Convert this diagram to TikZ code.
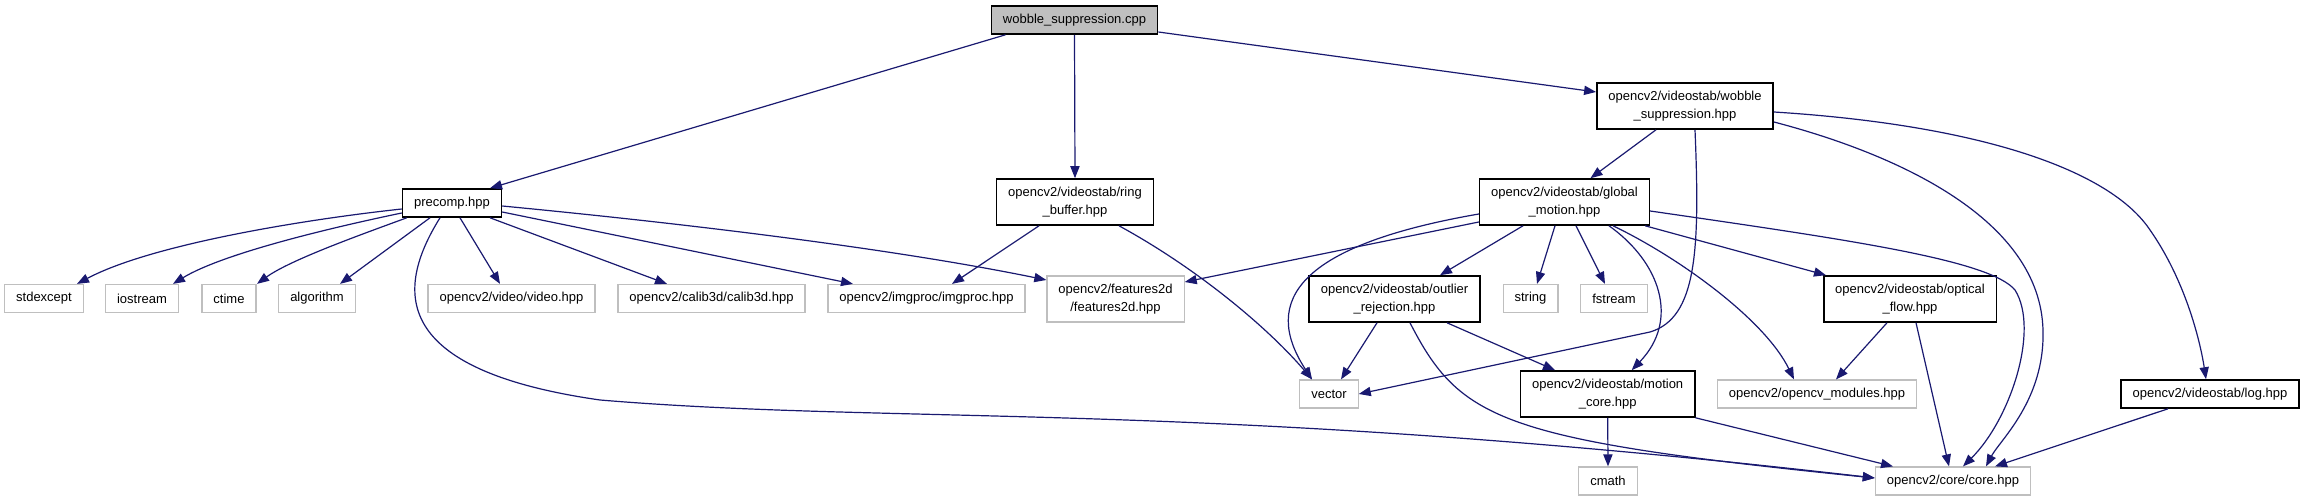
\documentclass[tikz,border=0pt]{standalone}
\usepackage{fontspec}
\newfontfamily\dxfont{Liberation Sans}
\usetikzlibrary{arrows.meta}
\definecolor{edgeblue}{HTML}{191970}
\definecolor{boxgray}{HTML}{BFBFBF}
\begin{document}
\begin{tikzpicture}[x=0.5pt,y=-0.5pt,
  box/.style={rectangle, font=\dxfont\fontsize{6.5}{8.8}\selectfont, inner xsep=5.75pt, inner ysep=2pt, minimum height=14pt, align=center, fill=white},
  gbox/.style={box, draw=boxgray, line width=0.6pt},
  bbox/.style={box, draw=black, line width=0.8pt},
  rootbox/.style={bbox, fill=boxgray},
  two/.style={minimum height=23pt},
  dep/.style={draw=edgeblue, line width=0.6pt, -{Triangle[length=6pt,width=4.6pt]}}]
\fill[white] (0,0) rectangle (2304,501);
\useasboundingbox (0,0) rectangle (2304,501);

% nodes
\node[rootbox] (wsc) at (1074.5,20) {wobble\_suppression.cpp};
\node[bbox,two] (wsh) at (1685,106) {opencv2/videostab/wobble\\\_suppression.hpp};
\node[bbox] (precomp) at (452,203) {precomp.hpp};
\node[bbox,two] (ring) at (1075,202) {opencv2/videostab/ring\\\_buffer.hpp};
\node[bbox,two] (gm) at (1564.5,202) {opencv2/videostab/global\\\_motion.hpp};
\node[gbox] (stdexcept) at (44,298.5) {stdexcept};
\node[gbox] (iostream) at (142,298.5) {iostream};
\node[gbox] (ctime) at (229,298.5) {ctime};
\node[gbox] (algorithm) at (317,298.5) {algorithm};
\node[gbox] (video) at (511.5,298.5) {opencv2/video/video.hpp};
\node[gbox] (calib3d) at (711.5,298.5) {opencv2/calib3d/calib3d.hpp};
\node[gbox] (imgproc) at (926.5,298.5) {opencv2/imgproc/imgproc.hpp};
\node[gbox,two] (features2d) at (1115.5,299) {opencv2/features2d\\/features2d.hpp};
\node[bbox,two] (outlier) at (1394.5,299) {opencv2/videostab/outlier\\\_rejection.hpp};
\node[gbox] (string) at (1530.5,298.5) {string};
\node[gbox] (fstream) at (1614,298.5) {fstream};
\node[bbox,two] (optical) at (1910,299) {opencv2/videostab/optical\\\_flow.hpp};
\node[gbox] (vector) at (1329,394) {vector};
\node[bbox,two] (motioncore) at (1607.7,394) {opencv2/videostab/motion\\\_core.hpp};
\node[gbox] (opencvmod) at (1817,394) {opencv2/opencv\_modules.hpp};
\node[bbox] (log) at (2210,394) {opencv2/videostab/log.hpp};
\node[gbox] (cmath) at (1608,481) {cmath};
\node[gbox] (core) at (1953,481) {opencv2/core/core.hpp};

% edges from wobble_suppression.cpp
\draw[dep] ([shift={(-69,0)}]wsc.south) -- ([shift={(38,0)}]precomp.north);
\draw[dep] (wsc.south) -- (ring.north);
\draw[dep] ([shift={(0,12)}]wsc.east) -- ([shift={(0,-14)}]wsh.west);

% edges from wobble_suppression.hpp
\draw[dep] ([shift={(-29,0)}]wsh.south) -- ([shift={(26,0)}]gm.north);
\draw[dep] ([shift={(10,0)}]wsh.south) .. controls (1700,250) and (1697,318) .. (1650,332) -- (vector.east);
\draw[dep] ([shift={(0,16)}]wsh.east) .. controls (1900,155) and (2040,220) .. (2043,330) .. controls (2045,400) and (2000,440) .. ([shift={(33,0)}]core.north);
\draw[dep] ([shift={(0,6)}]wsh.east) .. controls (1980,125) and (2110,170) .. (2150,230) .. controls (2185,280) and (2200,340) .. ([shift={(-4,0)}]log.north);

% edges from precomp.hpp
\draw[dep] ([shift={(0,6)}]precomp.west) .. controls (300,220) and (150,245) .. ([shift={(33,0)}]stdexcept.north);
\draw[dep] ([shift={(0,10)}]precomp.west) .. controls (320,230) and (220,255) .. ([shift={(31,0)}]iostream.north);
\draw[dep] ([shift={(5,0)}]precomp.south west) .. controls (360,235) and (290,260) .. ([shift={(28,0)}]ctime.north);
\draw[dep] ([shift={(-22,0)}]precomp.south) -- ([shift={(23,0)}]algorithm.north);
\draw[dep] ([shift={(8,0)}]precomp.south) -- ([shift={(-11.5,0)}]video.north);
\draw[dep] ([shift={(38,0)}]precomp.south) -- ([shift={(-44.5,0)}]calib3d.north);
\draw[dep] ([shift={(0,9)}]precomp.east) -- ([shift={(-73.5,0)}]imgproc.north);
\draw[dep] ([shift={(0,3)}]precomp.east) .. controls (700,225) and (900,250) .. ([shift={(0,-19)}]features2d.west);
\draw[dep] ([shift={(-12,0)}]precomp.south) .. controls (395,290) and (390,370) .. (600,400) .. controls (900,425) and (1200,400) .. ([shift={(0,-3)}]core.west);

% edges from ring_buffer.hpp
\draw[dep] ([shift={(-36,0)}]ring.south) -- ([shift={(25.5,0)}]imgproc.north);
\draw[dep] ([shift={(44,0)}]ring.south) .. controls (1200,270) and (1270,330) .. ([shift={(-17,0)}]vector.north);

% edges from global_motion.hpp
\draw[dep] ([shift={(0,12)}]gm.west) .. controls (1300,245) and (1260,300) .. ([shift={(-17,0)}]vector.north);
\draw[dep] ([shift={(0,20)}]gm.west) -- ([shift={(0,-17)}]features2d.east);
\draw[dep] ([shift={(-41.5,0)}]gm.south) -- ([shift={(45.5,0)}]outlier.north);
\draw[dep] ([shift={(-9.5,0)}]gm.south) -- ([shift={(6.5,0)}]string.north);
\draw[dep] ([shift={(11.5,0)}]gm.south) -- ([shift={(-9,0)}]fstream.north);
\draw[dep] ([shift={(44.5,0)}]gm.south) .. controls (1660,262) and (1680,320) .. ([shift={(24,0)}]motioncore.north);
\draw[dep] ([shift={(48.5,0)}]gm.south) .. controls (1680,258) and (1765,320) .. ([shift={(-23,0)}]opencvmod.north);
\draw[dep] ([shift={(-5,0)}]gm.south east) -- ([shift={(-84,0)}]optical.north);
\draw[dep] ([shift={(0,9)}]gm.east) .. controls (1850,240) and (1990,260) .. (2015,290) .. controls (2040,330) and (2010,420) .. ([shift={(10,0)}]core.north);

% edges from outlier_rejection.hpp
\draw[dep] ([shift={(-17.5,0)}]outlier.south) -- ([shift={(12,0)}]vector.north);
\draw[dep] ([shift={(52.5,0)}]outlier.south) -- ([shift={(-52.7,0)}]motioncore.north);
\draw[dep] ([shift={(15.5,0)}]outlier.south) .. controls (1460,420) and (1500,440) .. ([shift={(0,-3)}]core.west);

% edges from optical_flow.hpp
\draw[dep] ([shift={(-23,0)}]optical.south) -- ([shift={(19,0)}]opencvmod.north);
\draw[dep] ([shift={(6,0)}]optical.south) -- ([shift={(-4,0)}]core.north);

% edges from motion_core.hpp
\draw[dep] (motioncore.south) -- (cmath.north);
\draw[dep] (motioncore.south east) -- ([shift={(-60,0)}]core.north);

% edge from log.hpp
\draw[dep] ([shift={(-42,0)}]log.south) -- ([shift={(42,0)}]core.north);
\end{tikzpicture}
\end{document}
